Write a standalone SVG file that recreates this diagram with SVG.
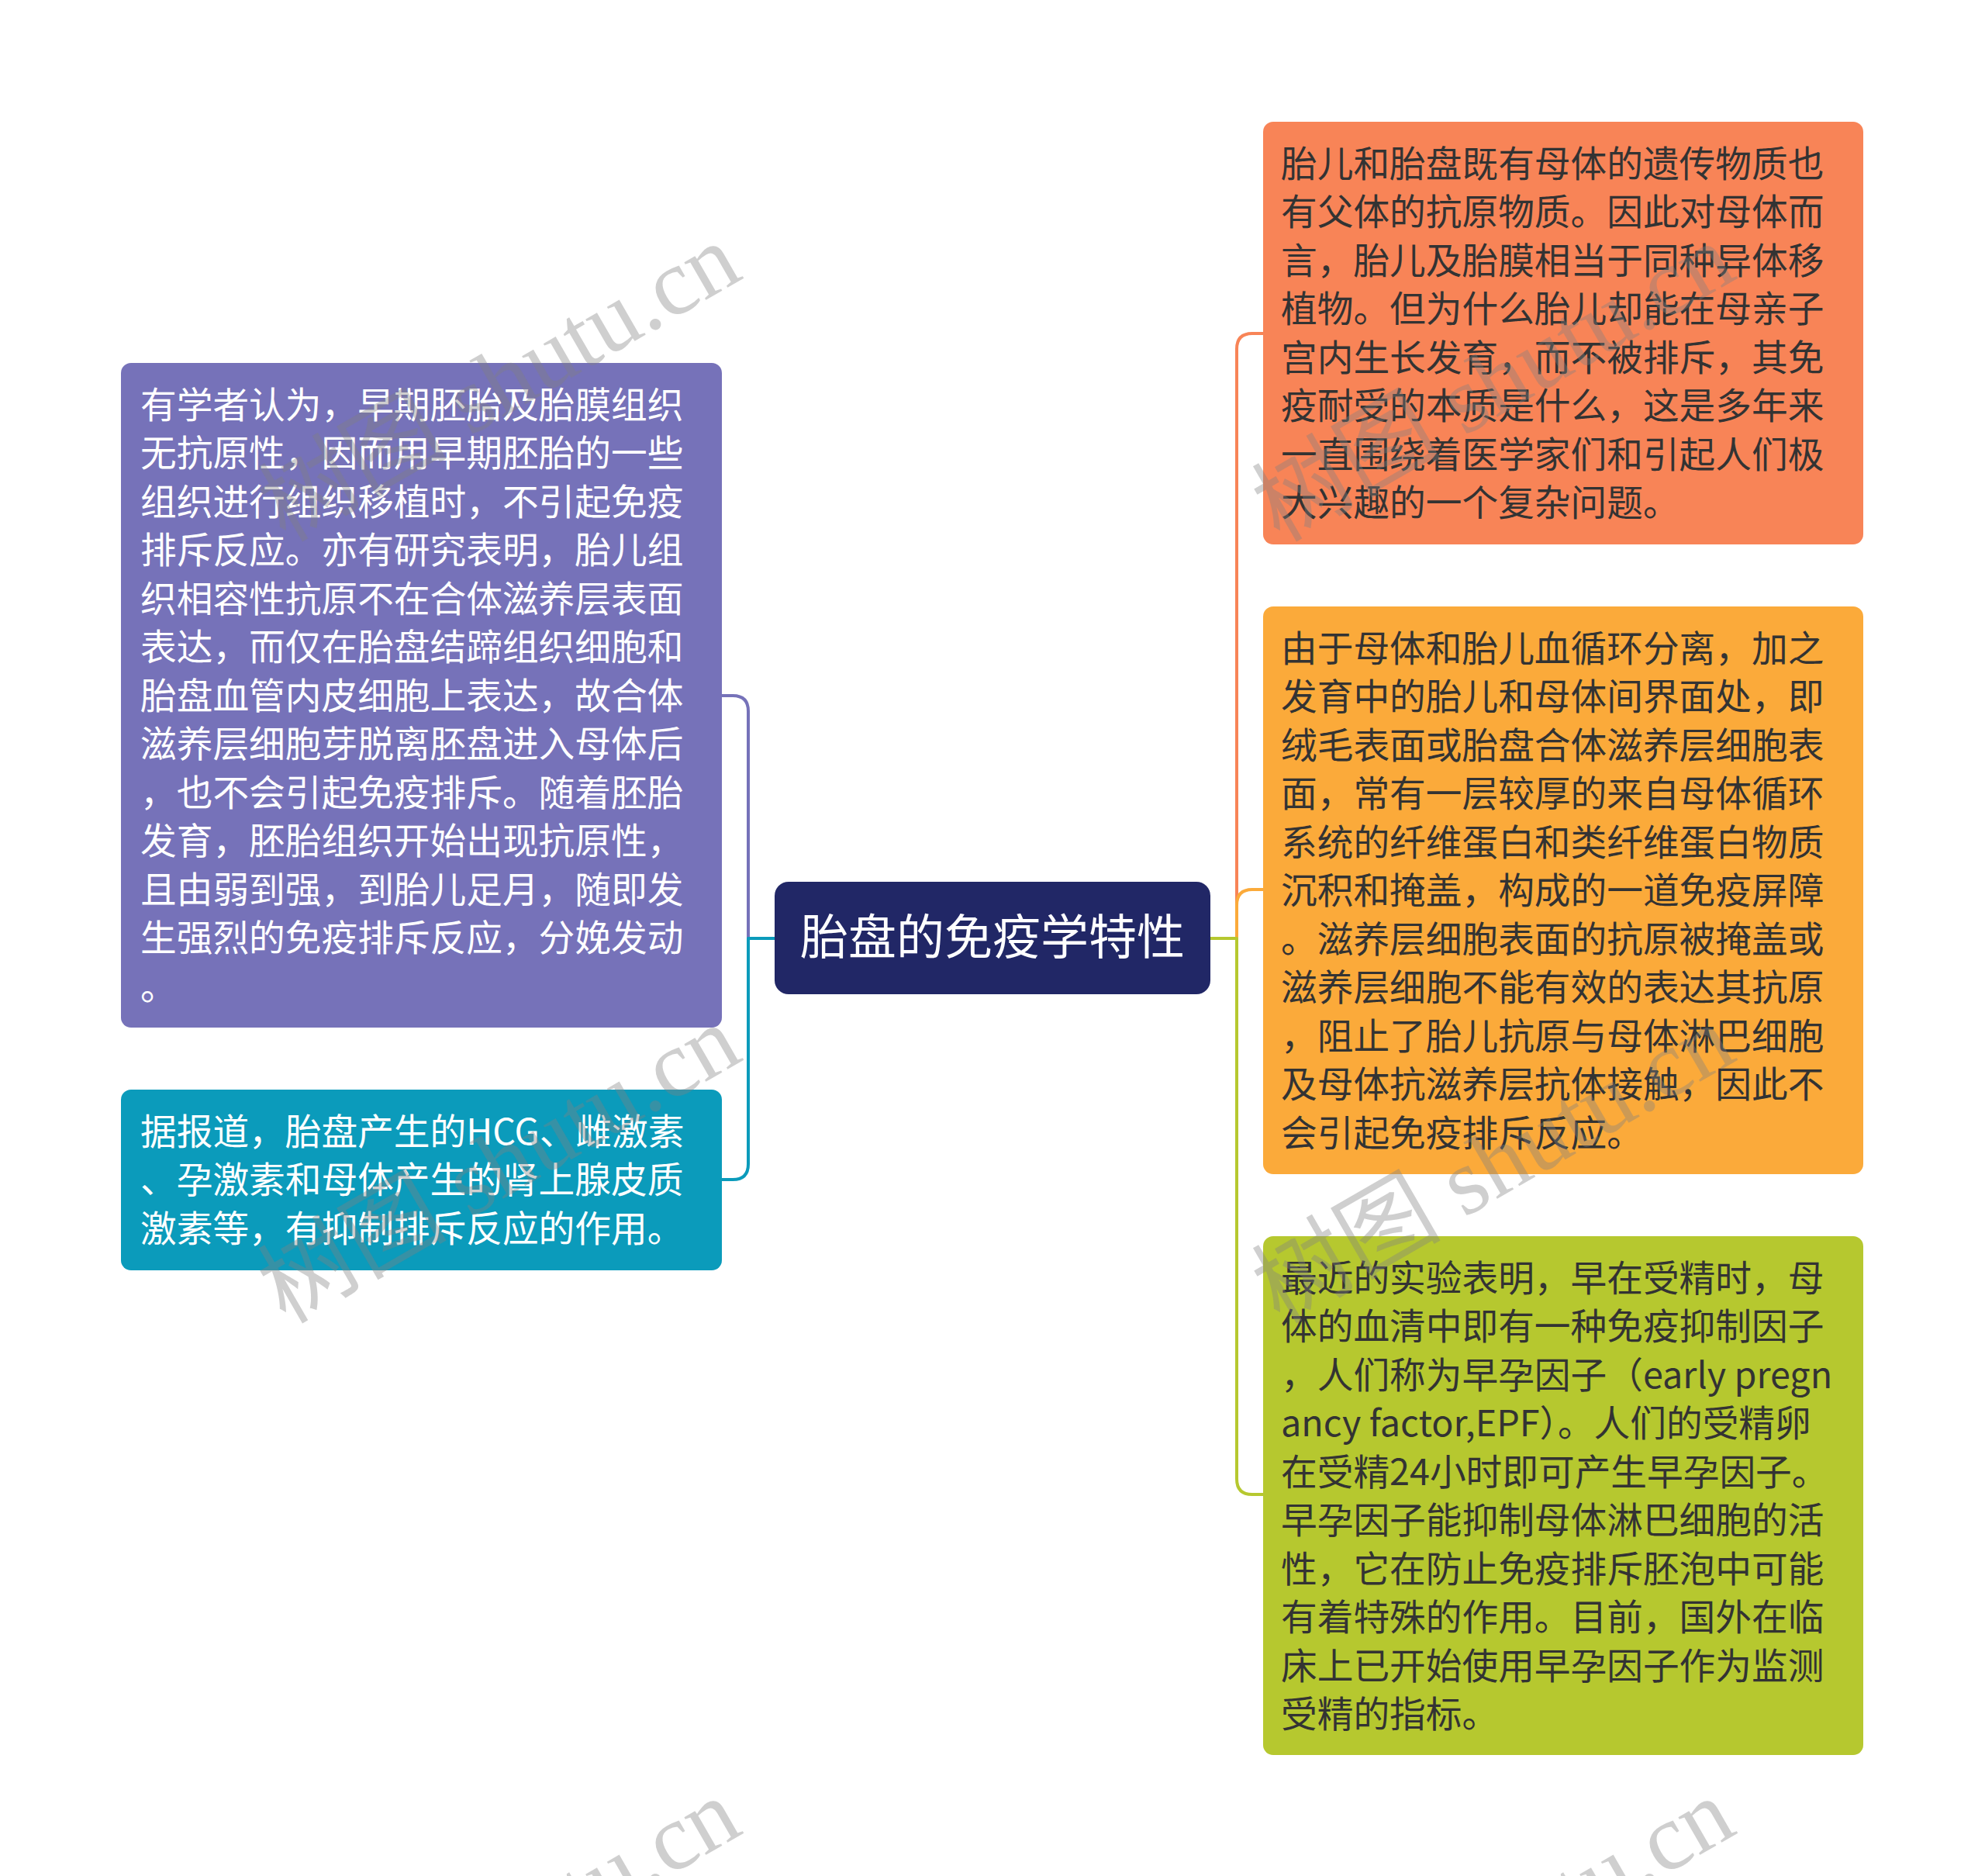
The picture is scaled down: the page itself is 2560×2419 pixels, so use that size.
<svg xmlns="http://www.w3.org/2000/svg" width="2560" height="2419" viewBox="0 0 2560 2419">
<style>
.t{font-family:"Noto Sans CJK SC","Liberation Sans",sans-serif;font-size:46.7px}
.w{fill:#ffffff}
.d{fill:#333333}
.c{font-family:"Noto Sans CJK SC","Liberation Sans",sans-serif;font-size:62px;fill:#ffffff}
.ln{fill:none;stroke-width:4;stroke-linecap:round;stroke-linejoin:round}
.wm{font-family:"Liberation Serif","Noto Sans CJK SC",serif;font-size:122px;fill:#808080;fill-opacity:0.38}
</style>
<defs>
<text id="wmt" class="wm" x="0" y="0">树图 shutu.cn</text>
</defs>
<rect x="0" y="0" width="2560" height="2419" fill="#ffffff"/>
<g id="connectors">
<path class="ln" stroke="#7672B9" d="M931 897 H945 Q965 897 965 917 V1210"/>
<path class="ln" stroke="#0B9BBB" d="M999 1210 H965 V1501 Q965 1521 945 1521 H931"/>
<path class="ln" stroke="#F88457" d="M1595 1210 V450 Q1595 430 1615 430 H1629"/>
<path class="ln" stroke="#FBAA3A" d="M1595 1210 V1167 Q1595 1147 1615 1147 H1629"/>
<path class="ln" stroke="#B6C82F" d="M1561 1210 H1595 V1907 Q1595 1927 1615 1927 H1629"/>
</g>
<g id="center">
<rect x="999" y="1137" width="562" height="145" rx="18" fill="#212766"/>
<text class="c" x="1280" y="1231" text-anchor="middle">胎盘的免疫学特性</text>
</g>
<g id="left1">
<rect x="156" y="468" width="775" height="857" rx="13" fill="#7672B9"/>
<text class="t w">
<tspan x="181" y="538.5">有学者认为，早期胚胎及胎膜组织</tspan>
<tspan x="181" y="601">无抗原性，因而用早期胚胎的一些</tspan>
<tspan x="181" y="663.5">组织进行组织移植时，不引起免疫</tspan>
<tspan x="181" y="726">排斥反应。亦有研究表明，胎儿组</tspan>
<tspan x="181" y="788.5">织相容性抗原不在合体滋养层表面</tspan>
<tspan x="181" y="851">表达，而仅在胎盘结蹄组织细胞和</tspan>
<tspan x="181" y="913.5">胎盘血管内皮细胞上表达，故合体</tspan>
<tspan x="181" y="976">滋养层细胞芽脱离胚盘进入母体后</tspan>
<tspan x="181" y="1038.5">，也不会引起免疫排斥。随着胚胎</tspan>
<tspan x="181" y="1101">发育，胚胎组织开始出现抗原性，</tspan>
<tspan x="181" y="1163.5">且由弱到强，到胎儿足月，随即发</tspan>
<tspan x="181" y="1226">生强烈的免疫排斥反应，分娩发动</tspan>
<tspan x="181" y="1288.5">。</tspan>
</text>
</g>
<g id="left2">
<rect x="156" y="1405" width="775" height="233" rx="13" fill="#0B9BBB"/>
<text class="t w">
<tspan x="181" y="1475.5">据报道，胎盘产生的HCG、雌激素</tspan>
<tspan x="181" y="1538">、孕激素和母体产生的肾上腺皮质</tspan>
<tspan x="181" y="1600.5">激素等，有抑制排斥反应的作用。</tspan>
</text>
</g>
<g id="right1">
<rect x="1629" y="157" width="774" height="545" rx="13" fill="#F88457"/>
<text class="t d">
<tspan x="1652" y="227.5">胎儿和胎盘既有母体的遗传物质也</tspan>
<tspan x="1652" y="290">有父体的抗原物质。因此对母体而</tspan>
<tspan x="1652" y="352.5">言，胎儿及胎膜相当于同种异体移</tspan>
<tspan x="1652" y="415">植物。但为什么胎儿却能在母亲子</tspan>
<tspan x="1652" y="477.5">宫内生长发育，而不被排斥，其免</tspan>
<tspan x="1652" y="540">疫耐受的本质是什么，这是多年来</tspan>
<tspan x="1652" y="602.5">一直围绕着医学家们和引起人们极</tspan>
<tspan x="1652" y="665">大兴趣的一个复杂问题。</tspan>
</text>
</g>
<g id="right2">
<rect x="1629" y="782" width="774" height="732" rx="13" fill="#FBAA3A"/>
<text class="t d">
<tspan x="1652" y="852.5">由于母体和胎儿血循环分离，加之</tspan>
<tspan x="1652" y="915">发育中的胎儿和母体间界面处，即</tspan>
<tspan x="1652" y="977.5">绒毛表面或胎盘合体滋养层细胞表</tspan>
<tspan x="1652" y="1040">面，常有一层较厚的来自母体循环</tspan>
<tspan x="1652" y="1102.5">系统的纤维蛋白和类纤维蛋白物质</tspan>
<tspan x="1652" y="1165">沉积和掩盖，构成的一道免疫屏障</tspan>
<tspan x="1652" y="1227.5">。滋养层细胞表面的抗原被掩盖或</tspan>
<tspan x="1652" y="1290">滋养层细胞不能有效的表达其抗原</tspan>
<tspan x="1652" y="1352.5">，阻止了胎儿抗原与母体淋巴细胞</tspan>
<tspan x="1652" y="1415">及母体抗滋养层抗体接触，因此不</tspan>
<tspan x="1652" y="1477.5">会引起免疫排斥反应。</tspan>
</text>
</g>
<g id="right3">
<rect x="1629" y="1594" width="774" height="669" rx="13" fill="#B6C82F"/>
<text class="t d">
<tspan x="1652" y="1664.5">最近的实验表明，早在受精时，母</tspan>
<tspan x="1652" y="1727">体的血清中即有一种免疫抑制因子</tspan>
<tspan x="1652" y="1789.5">，人们称为早孕因子（early pregn</tspan>
<tspan x="1652" y="1852">ancy factor,EPF）。人们的受精卵</tspan>
<tspan x="1652" y="1914.5">在受精24小时即可产生早孕因子。</tspan>
<tspan x="1652" y="1977">早孕因子能抑制母体淋巴细胞的活</tspan>
<tspan x="1652" y="2039.5">性，它在防止免疫排斥胚泡中可能</tspan>
<tspan x="1652" y="2102">有着特殊的作用。目前，国外在临</tspan>
<tspan x="1652" y="2164.5">床上已开始使用早孕因子作为监测</tspan>
<tspan x="1652" y="2227">受精的指标。</tspan>
</text>
</g>
<g id="watermarks">
<use href="#wmt" transform="translate(368 700) rotate(-30)"/>
<use href="#wmt" transform="translate(368 1708) rotate(-30)"/>
<use href="#wmt" transform="translate(368 2705) rotate(-30)"/>
<use href="#wmt" transform="translate(1650 700) rotate(-30)"/>
<use href="#wmt" transform="translate(1650 1708) rotate(-30)"/>
<use href="#wmt" transform="translate(1650 2705) rotate(-30)"/>
</g>
</svg>
